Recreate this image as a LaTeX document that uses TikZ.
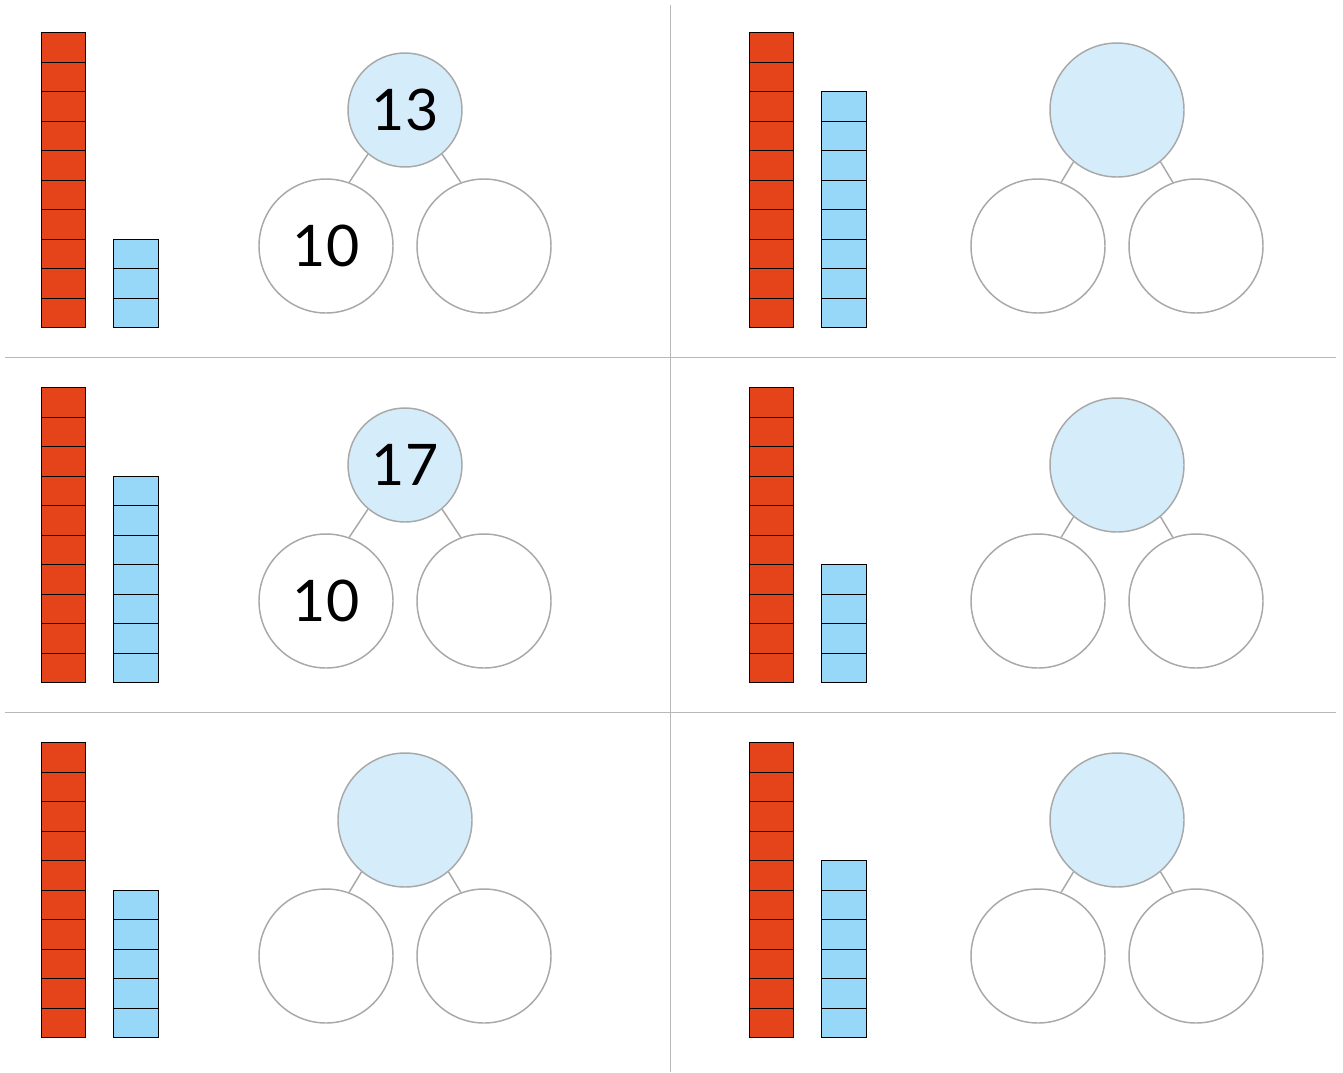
\documentclass[tikz,border=0pt]{standalone}
\usepackage{fontspec}
\setmainfont{Lato}
\definecolor{tenred}{HTML}{E5431A}
\definecolor{oneblue}{HTML}{97D7F7}
\definecolor{wholefill}{HTML}{D5ECFA}
\definecolor{ringgray}{HTML}{A8A8A8}
\definecolor{divgray}{HTML}{B8B8B8}
\tikzset{
  cube/.style={draw=black,line width=0.75pt},
  whole/.style={circle,draw=ringgray,fill=wholefill,line width=1.1pt,inner sep=0pt,font=\fontsize{43}{43}\selectfont},
  part/.style={circle,draw=ringgray,fill=white,line width=1.1pt,inner sep=0pt,minimum size=100.5pt,font=\fontsize{43}{43}\selectfont},
  link/.style={draw=ringgray,line width=1.1pt},
  divider/.style={draw=divgray,line width=1.1pt}
}
\begin{document}
\begin{tikzpicture}[x=0.75pt,y=-0.75pt]
\useasboundingbox (0,0) rectangle (1343,1072);
% dividers
\draw[divider] (670.5,5) -- (670.5,1072);
\draw[divider] (5,357.5) -- (1336,357.5);
\draw[divider] (5,712.5) -- (1336,712.5);
% panels: col, row, blue count, whole size, whole text, left text
\foreach \c/\r/\nb/\ws/\wt/\lt/\id in {0/0/3/85.5/13/10/a, 1/0/8/100.5//{}/b, 0/1/7/85.5/17/10/c, 1/1/4/100.5//{}/d, 0/2/5/100.5//{}/e, 1/2/6/100.5//{}/f}{
  \pgfmathsetmacro{\dx}{708*\c}
  \pgfmathsetmacro{\cx}{712*\c}
  \pgfmathsetmacro{\dy}{355*\r}
  \begin{scope}[shift={(\dx,\dy)}]
    \foreach \k in {1,...,10}{
      \fill[tenred] (41,327.5-29.5*\k) rectangle (85.5,327.5-29.5*\k+29.5);
      \draw[cube] (41,327.5-29.5*\k) rectangle (85.5,327.5-29.5*\k+29.5);
    }
    \foreach \k in {1,...,\nb}{
      \fill[oneblue] (113.5,327.5-29.5*\k) rectangle (158,327.5-29.5*\k+29.5);
      \draw[cube] (113.5,327.5-29.5*\k) rectangle (158,327.5-29.5*\k+29.5);
    }
  \end{scope}
  \begin{scope}[shift={(\cx,\dy)}]
    \node[whole,minimum size=\ws pt] (w\id) at (405,110) {\wt};
    \node[part] (l\id) at (326,246) {\lt};
    \node[part] (r\id) at (484,246) {};
    \draw[link] (w\id.230) -- (l\id.70);
    \draw[link] (w\id.310) -- (r\id.110);
  \end{scope}
}
\end{tikzpicture}
\end{document}
